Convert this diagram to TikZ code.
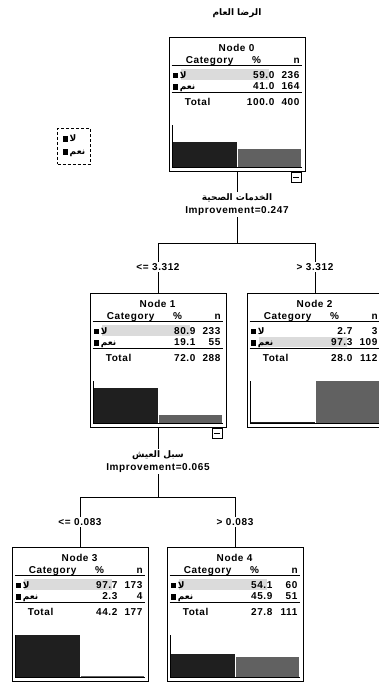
\documentclass[tikz,border=0pt]{standalone}
\usepackage{fontspec}
\setmainfont{Liberation Sans}
\newfontfamily\spss[LetterSpace=6]{Liberation Sans}
\newfontfamily\arabicfont[Script=Arabic]{DejaVu Sans}
\TeXXeTstate=1
\usetikzlibrary{positioning,calc}
\newcommand{\ar}[1]{{\arabicfont\beginR #1\endR}}
\newcommand{\sqmark}{\rule{5.5pt}{5.5pt}}
\tikzset{
  every node/.style={inner sep=0pt,text=black},
  nodebox/.style={draw=black,line width=0.8pt,fill=white,minimum width=136pt,minimum height=134pt,anchor=north},
  cell/.style={font=\spss\bfseries\fontsize{10}{12}\selectfont,anchor=base},
  rowlbl/.style={font=\bfseries\fontsize{9}{11}\selectfont,anchor=base west},
  splitlbl/.style={font=\spss\bfseries\fontsize{10}{12}\selectfont,inner sep=1.5pt},
  arlbl/.style={font=\arabicfont\bfseries\fontsize{9}{11}\selectfont,inner sep=1.5pt},
  sepline/.style={line width=1pt},
  chartaxis/.style={line width=0.8pt},
  modal/.style={fill=black!14},
  barA/.style={fill=black!88},
  barB/.style={fill=black!62},
  treelink/.style={line width=0.8pt},
  minusbox/.style={draw=black,line width=0.7pt,fill=white,minimum size=10pt,anchor=north east},
  legbox/.style={draw=black,dashed,line width=0.9pt,dash pattern=on 3pt off 2pt,inner sep=5pt,minimum width=32pt,minimum height=36pt,align=left,font=\bfseries\fontsize{9}{13}\selectfont}
}
% one SPSS tree node: name, top centre, number, %/n for both categories, total
\newcommand{\treebox}[9]{%
  \node[nodebox] (#1) at (#2) {};
  \begin{scope}[shift={(#1.north west)}]
    \ifdim #4pt>#6pt
      \fill[modal] (12,32) rectangle (100,43);
    \else
      \fill[modal] (12,43.5) rectangle (100,54);
    \fi
    \node[cell] (#1-ttl) at (68,14) {Node #3};
    \node[cell] (#1-cat) at (41,26) {Category};
    \node[cell] (#1-pc) at (88,26) {\%};
    \node[cell] (#1-nn) at (128,26) {n};
    \draw[sepline] (3,28.5) -- (133,28.5);
    \node[rowlbl] (#1-a) at (4,41) {\sqmark\,\ar{لا}};
    \node[cell,anchor=base east] (#1-ap) at (106,41) {#4};
    \node[cell,anchor=base east] (#1-an) at (131,41) {#5};
    \node[rowlbl] (#1-b) at (4,52.5) {\sqmark\,\ar{نعم}};
    \node[cell,anchor=base east] (#1-bp) at (106,52.5) {#6};
    \node[cell,anchor=base east] (#1-bn) at (131,52.5) {#7};
    \draw[sepline] (3,55) -- (133,55);
    \node[cell,anchor=base west] (#1-tt) at (16,68) {Total};
    \node[cell,anchor=base east] (#1-tp) at (106,68) {#8};
    \node[cell,anchor=base east] (#1-tn) at (131,68) {#9};
    \draw[chartaxis] (3.5,88) -- (3.5,130) -- (133,130);
    \fill[barA] (4.5,130) rectangle (68,{130-0.43*#4});
    \fill[barB] (69,130) rectangle (132,{130-0.43*#6});
  \end{scope}}

\begin{document}
\begin{tikzpicture}[x=1pt,y=-1pt]
  \useasboundingbox (0,0) rectangle (378,686);

  \node[arlbl] (title) at (237,13) {\ar{الرضا العام}};
  \node[legbox] (leg) at (74,146) {\sqmark\,\ar{لا}\\\sqmark\,\ar{نعم}};

  \treebox{n0}{237,37}{0}{59.0}{236}{41.0}{164}{100.0}{400}
  \treebox{n1}{158,293}{1}{80.9}{233}{19.1}{55}{72.0}{288}
  \treebox{n2}{315,293}{2}{2.7}{3}{97.3}{109}{28.0}{112}
  \treebox{n3}{80,547}{3}{97.7}{173}{2.3}{4}{44.2}{177}
  \treebox{n4}{235,547}{4}{54.1}{60}{45.9}{51}{27.8}{111}

  \node[minusbox] (m0) at ([xshift=-4pt]n0.south east) {\rule{6pt}{1pt}};
  \node[minusbox] (m1) at ([xshift=-4pt]n1.south east) {\rule{6pt}{1pt}};

  % first split
  \node[arlbl] (var0) at (237,198) {\ar{الخدمات الصحية}};
  \node[splitlbl] (imp0) at (237,211) {Improvement=0.247};
  \coordinate (sp0) at (237,243);
  \node[splitlbl] (c1) at (158,267) {<= 3.312};
  \node[splitlbl] (c2) at (315,267) {> 3.312};
  \draw[treelink] (n0.south) -- (var0.north);
  \draw[treelink] (imp0.south) -- (sp0) -| (c1.north);
  \draw[treelink] (sp0) -| (c2.north);
  \draw[treelink] (c1.south) -- (n1.north);
  \draw[treelink] (c2.south) -- (n2.north);

  % second split
  \node[arlbl] (var1) at (158,455) {\ar{سبل العيش}};
  \node[splitlbl] (imp1) at (158,468) {Improvement=0.065};
  \coordinate (sp1) at (158,497);
  \node[splitlbl] (c3) at (80,522) {<= 0.083};
  \node[splitlbl] (c4) at (235,522) {> 0.083};
  \draw[treelink] (n1.south) -- (var1.north);
  \draw[treelink] (imp1.south) -- (sp1) -| (c3.north);
  \draw[treelink] (sp1) -| (c4.north);
  \draw[treelink] (c3.south) -- (n3.north);
  \draw[treelink] (c4.south) -- (n4.north);
\end{tikzpicture}
\end{document}
